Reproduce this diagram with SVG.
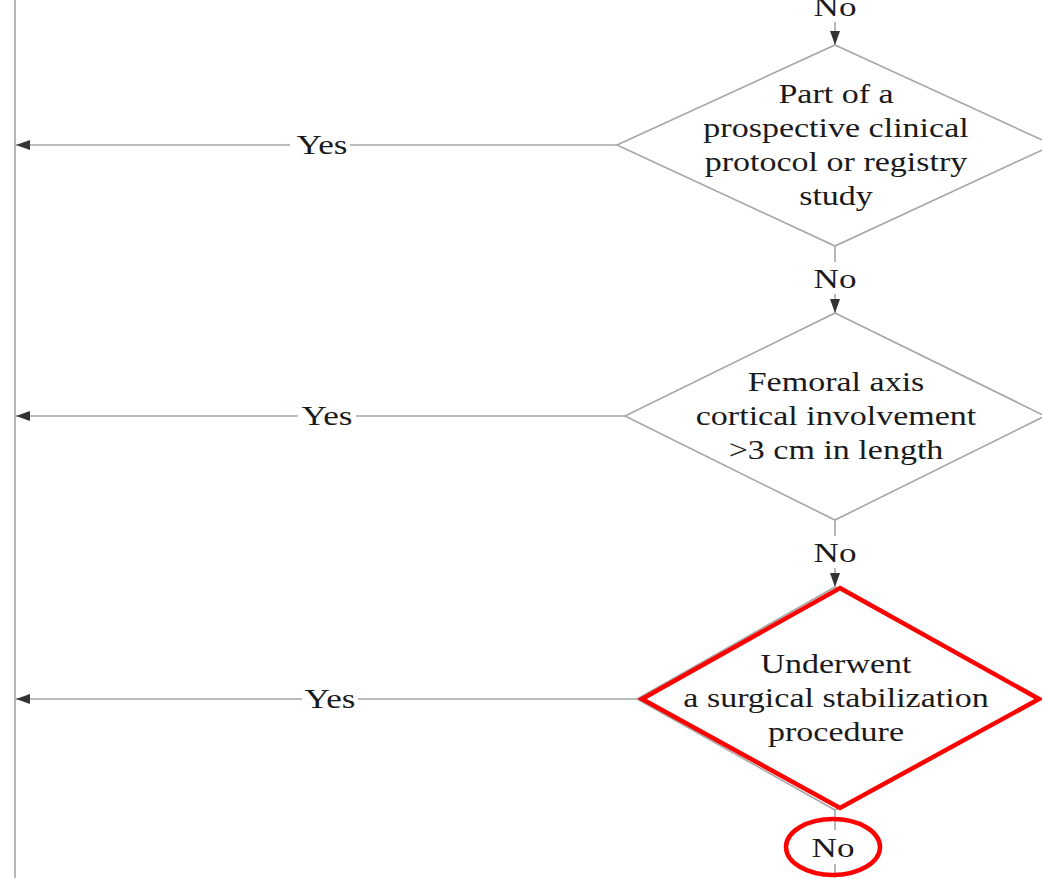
<svg xmlns="http://www.w3.org/2000/svg" width="1042" height="878" viewBox="0 0 1042 878">
<defs>
<marker id="ahd" viewBox="0 0 14 10" refX="14" refY="5" markerWidth="14" markerHeight="10" markerUnits="userSpaceOnUse" orient="auto">
<path d="M0,0 L14,5 L0,10 z" fill="#333"/>
</marker>
</defs>
<style>
text{font-family:"Liberation Serif","Times New Roman",serif;font-size:27px;fill:#1a1a1a;text-anchor:middle}
.ln{stroke:#a6a6a6;stroke-width:1.6;fill:none}
.dia{fill:#fff;stroke:#a6a6a6;stroke-width:1.6}
.red{fill:none;stroke:#ff0000;stroke-width:4.5}
</style>
<rect width="1042" height="878" fill="#fff"/>
<g id="connectors">
<line class="ln" x1="15" y1="0" x2="15" y2="878" stroke-width="2.2"/>
<line class="ln" x1="835" y1="22" x2="835" y2="45" marker-end="url(#ahd)"/>
<line class="ln" x1="835" y1="246" x2="835" y2="262"/>
<line class="ln" x1="835" y1="294" x2="835" y2="313" marker-end="url(#ahd)"/>
<line class="ln" x1="835" y1="520" x2="835" y2="536"/>
<line class="ln" x1="835" y1="568" x2="835" y2="587" marker-end="url(#ahd)"/>
<line class="ln" x1="835" y1="810" x2="835" y2="830"/>
<line class="ln" x1="835" y1="864" x2="835" y2="878"/>
<line class="ln" x1="617" y1="145" x2="350" y2="145"/>
<line class="ln" x1="290" y1="145" x2="16" y2="145" marker-end="url(#ahd)"/>
<line class="ln" x1="625" y1="416" x2="356" y2="416"/>
<line class="ln" x1="298" y1="416" x2="16" y2="416" marker-end="url(#ahd)"/>
<line class="ln" x1="640" y1="699" x2="358" y2="699"/>
<line class="ln" x1="302" y1="699" x2="16" y2="699" marker-end="url(#ahd)"/>
<g transform="translate(835,0) scale(1.3,1)"><text x="0" y="16">No</text><text x="0" y="288">No</text><text x="0" y="562">No</text></g>
<g transform="translate(322,0) scale(1.3,1)"><text x="0" y="154">Yes</text></g>
<g transform="translate(327,0) scale(1.3,1)"><text x="0" y="425">Yes</text></g>
<g transform="translate(330,0) scale(1.3,1)"><text x="0" y="708">Yes</text></g>
</g>
<g id="d1">
<polygon class="dia" points="835,45 1053,145 835,246 617,145"/>
<g transform="translate(836,0) scale(1.26,1)">
<text x="0" y="103">Part of a</text>
<text x="0" y="137">prospective clinical</text>
<text x="0" y="171">protocol or registry</text>
<text x="0" y="205">study</text>
</g>
</g>
<g id="d2">
<polygon class="dia" points="835,313 1045,416 835,520 625,416"/>
<g transform="translate(836,0) scale(1.26,1)">
<text x="0" y="391">Femoral axis</text>
<text x="0" y="425">cortical involvement</text>
<text x="0" y="459">&gt;3 cm in length</text>
</g>
</g>
<g id="d3">
<polygon class="dia" points="835,587 1040,699 835,810 637,699"/>
<polygon class="red" points="840,588 1039,699 840,808 642,699"/>
<g transform="translate(836,0) scale(1.26,1)">
<text x="0" y="673">Underwent</text>
<text x="0" y="707">a surgical stabilization</text>
<text x="0" y="741">procedure</text>
</g>
</g>
<g id="n-no">
<ellipse class="red" cx="833" cy="847" rx="47" ry="28" stroke-width="3.5"/>
<g transform="translate(833,0) scale(1.3,1)"><text x="0" y="857">No</text></g>
</g>
</svg>
